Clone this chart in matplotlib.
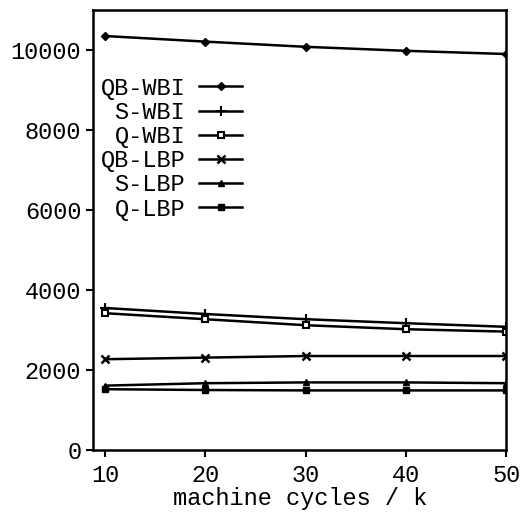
import matplotlib
matplotlib.use('Agg')
import matplotlib.pyplot as plt

# data
cycles = [10, 20, 30, 40, 50]
qb_wbi = [10350, 10210, 10080, 9980, 9900]
s_wbi = [3550, 3400, 3270, 3170, 3080]
q_wbi = [3420, 3270, 3120, 3020, 2960]
qb_lbp = [2270, 2310, 2350, 2350, 2350]
s_lbp = [1610, 1670, 1690, 1690, 1670]
q_lbp = [1520, 1500, 1490, 1490, 1490]

plt.rcParams['font.family'] = ['Liberation Mono', 'DejaVu Sans Mono']
plt.rcParams['font.size'] = 17

fig = plt.figure(figsize=(5.29, 5.14), dpi=100)
ax = fig.add_axes([0.176, 0.1245, 0.781, 0.856])

lw = 1.8
ax.plot(cycles, qb_wbi, color='black', lw=lw, marker='D', ms=4, label='QB-WBI')
ax.plot(cycles, s_wbi, color='black', lw=lw, marker='+', ms=7, mew=1.5, label='S-WBI')
ax.plot(cycles, q_wbi, color='black', lw=lw, marker='s', ms=5, mfc='white', mew=1.5, label='Q-WBI')
ax.plot(cycles, qb_lbp, color='black', lw=lw, marker='x', ms=6, mew=1.8, label='QB-LBP')
ax.plot(cycles, s_lbp, color='black', lw=lw, marker='^', ms=5, label='S-LBP')
ax.plot(cycles, q_lbp, color='black', lw=lw, marker='s', ms=5, label='Q-LBP')

ax.set_xlim(8.8, 50)
ax.set_ylim(0, 11000)
ax.set_xticks([10, 20, 30, 40, 50])
ax.set_yticks([0, 2000, 4000, 6000, 8000, 10000])
ax.tick_params(direction='out', length=5, width=1.5, labelsize=17)
ax.tick_params(axis='x', pad=5)
for s in ax.spines.values():
    s.set_linewidth(1.8)

ax.set_xlabel('machine cycles / k', fontsize=17, labelpad=0)

ax.legend(loc='upper left', bbox_to_anchor=(-0.005, 0.87), frameon=False,
          markerfirst=False, handlelength=1.8, labelspacing=0.05,
          handletextpad=0.6, borderaxespad=0, fontsize=17)

fig.savefig('out.png', dpi=100)
